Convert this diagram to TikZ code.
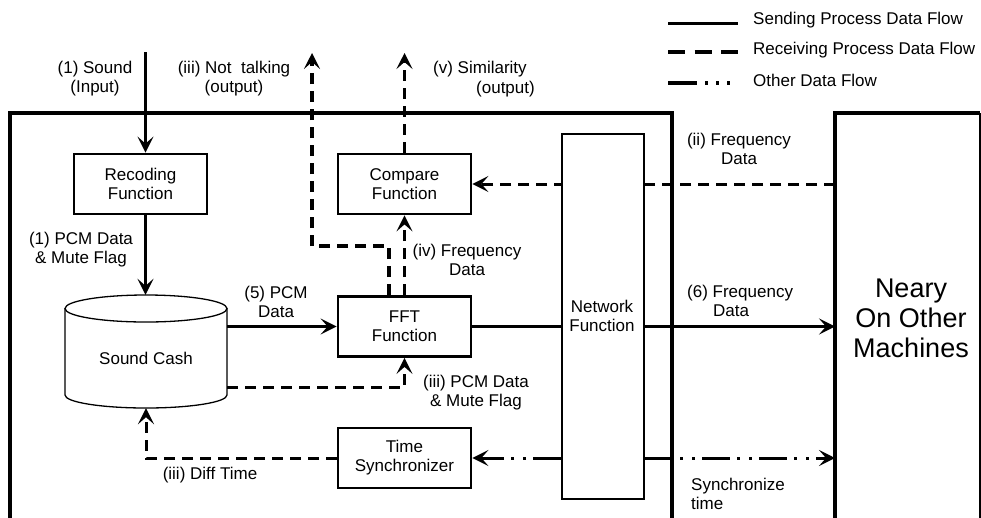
\documentclass[tikz,border=0pt]{standalone}
\usepackage{fontspec}
\setmainfont{Liberation Sans}
\usetikzlibrary{arrows.meta}
\begin{document}
\begin{tikzpicture}[x=1pt,y=-1pt, font=\fontsize{17}{19}\selectfont,
  box/.style={draw, line width=2.8pt, minimum width=133pt, minimum height=60pt, align=center, inner sep=0pt},
  lbl/.style={align=center, inner sep=0pt},
  arr/.style={-{Stealth[length=16pt,width=16pt,inset=7pt]}},
  solidflow/.style={line width=3pt, arr},
  recvflow/.style={line width=3pt, dash pattern=on 11pt off 7pt, arr},
  otherflow/.style={line width=3pt, dash pattern=on 28pt off 7pt on 3pt off 9pt on 3pt off 7pt, arr},
]
\useasboundingbox (0,0) rectangle (981,517);
% frames
\begin{scope}
\clip (0,0) rectangle (981,517);
\draw[line width=3.5pt] (10,530) |- (672,113) -- (672,530);
\draw[line width=3.5pt] (835,530) |- (980,113);
\draw[line width=1.8pt] (980,113) -- (980,530);
\end{scope}
\node[inner sep=0pt, minimum width=145pt, minimum height=420pt, anchor=north west] (neary) at (835,113) {};
\node[lbl, font=\fontsize{27}{30}\selectfont] (nearytext) at (911,318) {Neary\\On Other\\Machines};

% boxes
\node[box] (rec) at (140.5,184) {Recoding\\Function};
\node[box] (cmp) at (404.5,184) {Compare\\Function};
\node[box] (fft) at (404.5,326.5) {FFT\\Function};
\node[box] (sync) at (404.5,458) {Time\\Synchronizer};

% sound cash cylinder
\node[inner sep=0pt, minimum width=162pt, minimum height=113pt] (cash) at (146,351.5) {};
\draw[line width=1.3pt, fill=white] (65,308.5) -- (65,395) arc[start angle=180, end angle=360, x radius=81, y radius=-13] -- (227,308.5);
\draw[line width=1.3pt] (146,308.5) ellipse[x radius=81, y radius=13.5];
\node[lbl] (cashtext) at (146,358) {Sound Cash};

% coordinates
\coordinate (sndin) at (145.5,52);
\coordinate (ntout) at (312,53);
\coordinate (simout) at (404.5,53);
\coordinate (pcmout) at (227,387);

% flows
\draw[solidflow] (sndin) -- (sndin |- rec.north);
\draw[solidflow] (sndin |- rec.south) -- (sndin |- cash.north);
\draw[solidflow] (cash.east |- fft.west) -- (fft.west);
\draw[solidflow] (fft.east) -- (fft.east -| neary.west);
\draw[recvflow] (cmp.east -| neary.west) -- (cmp.east);
\draw[recvflow] (pcmout) -| (fft.south);
\draw[recvflow] (sync.west) -| (cash.south);
\draw[recvflow, line width=4pt] ([xshift=-15.5pt]fft.north) |- ++(0,-49) -| (ntout);
\draw[recvflow, line width=2.5pt] (fft.north) -- (cmp.south);
\draw[recvflow, line width=2.5pt] (cmp.north) -- (simout);

% network box
\node[draw, line width=2.2pt, fill=white, inner sep=0pt, minimum width=82pt, minimum height=365pt, anchor=north west, align=center] (net) at (561,133) {};
\node[lbl] (nettext) at (602,316) {Network\\Function};
\draw[otherflow] (net.west |- sync.east) -- (sync.east);
\draw[otherflow] (net.east |- sync.east) -- (sync.east -| neary.west);

% labels
\node[lbl] (l1) at (95,79) {(1) Sound\\(Input)};
\node[lbl] (l2) at (234,79) {(iii) Not\ \ talking\\(output)};
\node[inner sep=0pt, anchor=west] (l3a) at (433,69) {(v) Similarity};
\node[inner sep=0pt, anchor=west] (l3b) at (476,89) {(output)};
\node[lbl] (l4) at (81,250) {(1) PCM Data\\\& Mute Flag};
\node[lbl] (l5) at (276,302) {(5) PCM\\Data};
\node[lbl] (l6) at (467,260) {(iv) Frequency\\Data};
\node[lbl] (l7) at (476,393) {(iii) PCM Data\\\& Mute Flag};
\node[lbl] (l8) at (210,475) {(iii) Diff Time};
\node[lbl] (l9) at (739,149) {(ii) Frequency\\Data};
\node[inner sep=0pt, anchor=west] (l10a) at (687,293) {(6) Frequency};
\node[inner sep=0pt, anchor=west] (l10b) at (713,311) {Data};
\node[inner sep=0pt, anchor=west, align=left] (l11) at (691,494) {Synchronize\\time};

% legend
\coordinate (lg1a) at (668,23); \coordinate (lg1b) at (738,23);
\coordinate (lg2a) at (668,52); \coordinate (lg2b) at (738,52);
\coordinate (lg3a) at (668,83); \coordinate (lg3b) at (738,83);
\draw[line width=3pt] (lg1a) -- (lg1b);
\draw[line width=3.5pt, dash pattern=on 17pt off 9.5pt] (lg2a) -- (lg2b);
\draw[line width=3.5pt, dash pattern=on 29pt off 8pt on 3pt off 8pt on 3pt off 8pt on 3pt off 20pt] (lg3a) -- (lg3b);
\node[inner sep=0pt, anchor=west] (lt1) at (753,20) {Sending Process Data Flow};
\node[inner sep=0pt, anchor=west] (lt2) at (753,50) {Receiving Process Data Flow};
\node[inner sep=0pt, anchor=west] (lt3) at (753,80) {Other Data Flow};
\end{tikzpicture}
\end{document}
